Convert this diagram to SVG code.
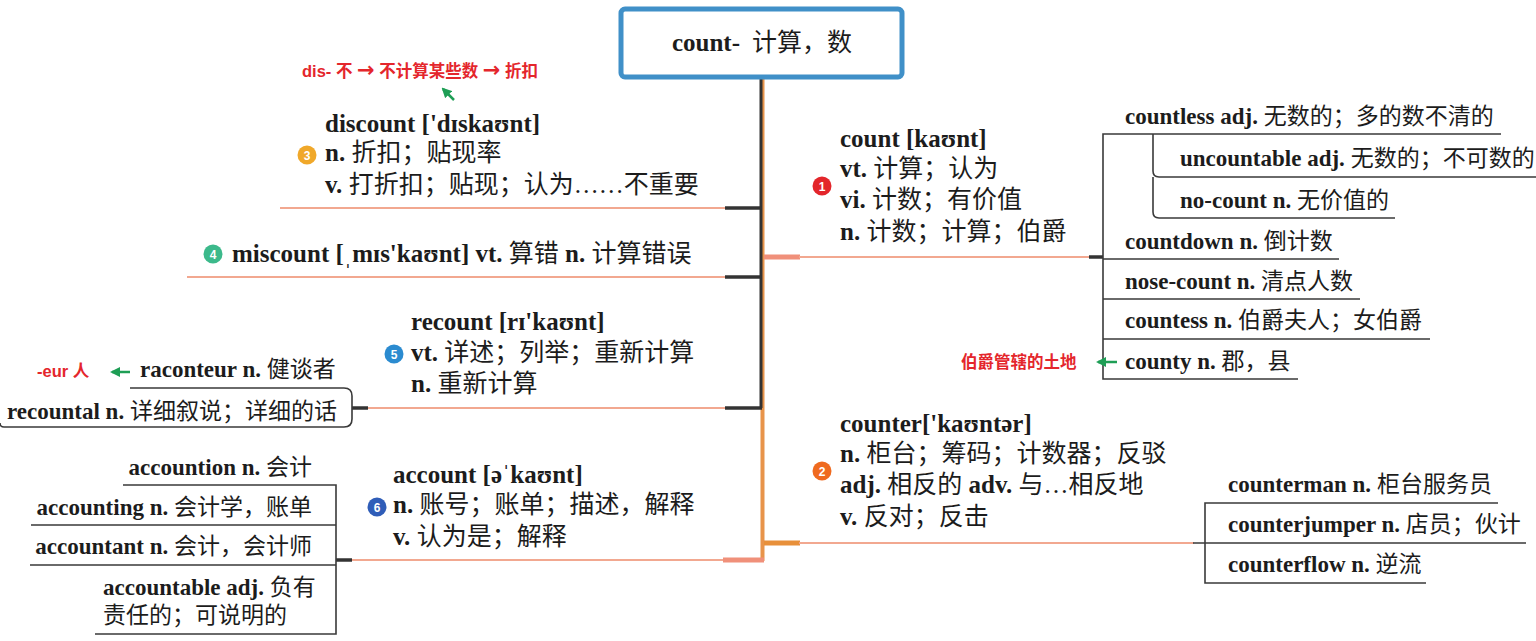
<svg xmlns="http://www.w3.org/2000/svg" width="1536" height="641" viewBox="0 0 1536 641">
<defs>
<style>
.m{font-family:"Liberation Serif","Noto Sans CJK SC",serif;font-size:25px;fill:#1c1c1c}
.s{font-family:"Liberation Serif","Noto Sans CJK SC",serif;font-size:23px;fill:#1c1c1c}
.b{font-weight:bold}
.red{font-family:"Liberation Sans","Noto Sans CJK SC",sans-serif;font-size:16.5px;font-weight:bold;fill:#E4262C}
.arr{font-family:"DejaVu Sans",sans-serif;font-weight:bold;font-size:21px}
.num{font-family:"Liberation Sans",sans-serif;font-size:12px;font-weight:bold;fill:#fff;text-anchor:middle}
.peach{stroke:#F2A890;stroke-width:2;fill:none}
.stub{stroke:#333;stroke-width:3.5;fill:none}
.ul{stroke:#3a3a3a;stroke-width:1.6;fill:none}
.grn{stroke:#1E9E55;stroke-width:2.5;fill:none}
</style>
<marker id="ah" viewBox="0 0 10 10" refX="8" refY="5" markerWidth="4" markerHeight="4" orient="auto-start-reverse">
<path d="M0,0 L10,5 L0,10 z" fill="#1E9E55"/>
</marker>
</defs>
<rect width="1536" height="641" fill="#fff"/>

<g id="connectors">
<line x1="762.5" y1="78" x2="762.5" y2="561" stroke="#E8944A" stroke-width="4"/>
<line x1="761" y1="78" x2="761" y2="408" stroke="#333" stroke-width="3"/>
<line class="peach" x1="280" y1="208" x2="726" y2="208"/>
<line class="stub" x1="725" y1="208" x2="762" y2="208"/>
<line class="peach" x1="187" y1="277" x2="726" y2="277"/>
<line class="stub" x1="725" y1="277" x2="762" y2="277"/>
<line class="peach" x1="366" y1="408" x2="726" y2="408"/>
<line class="stub" x1="725" y1="408" x2="762" y2="408"/>
<line class="stub" x1="352" y1="408" x2="368" y2="408" stroke-width="2"/>
<line class="peach" x1="350" y1="560" x2="726" y2="560"/>
<line x1="723" y1="560" x2="764" y2="560" stroke="#F0907A" stroke-width="5"/>
<line class="stub" x1="336" y1="560" x2="352" y2="560" stroke-width="2"/>
<line x1="764" y1="257" x2="800" y2="257" stroke="#F0907A" stroke-width="5"/>
<line class="peach" x1="799" y1="257" x2="1090" y2="257"/>
<line class="stub" x1="1089" y1="257" x2="1103" y2="257" stroke-width="2"/>
<line x1="764" y1="543" x2="800" y2="543" stroke="#E8903A" stroke-width="5"/>
<line class="peach" x1="799" y1="543" x2="1194" y2="543"/>
<path class="ul" d="M1501,134 H1103 V379 H1298"/>
<path class="ul" d="M1103,259 H1339 M1103,299 H1360 M1103,339 H1430"/>
<path class="ul" d="M1153,134 V171 Q1153,177 1159,177 H1536 M1153,177 V212 Q1153,218 1159,218 H1395"/>
<path class="ul" d="M1498,503 H1205 V583 H1426 M1193,543 H1526"/>
<path class="ul" d="M130,388 H344 Q352,388 352,396 V419 Q352,427 344,427 H4 Q0,427 0,423"/>
<path class="ul" d="M123,485 H336 V634 H95 M31,525 H336 M30,565 H336"/>
<line class="grn" x1="454" y1="100" x2="443" y2="89" marker-end="url(#ah)"/>
<line class="grn" x1="130" y1="372" x2="112" y2="372" marker-end="url(#ah)"/>
<line class="grn" x1="1117" y1="362" x2="1098" y2="362" marker-end="url(#ah)"/>
</g>

<g id="root">
<rect x="621" y="9" width="281" height="68" rx="4" fill="#fff" stroke="#4090C8" stroke-width="5"/>
<text class="m" x="762" y="51" text-anchor="middle"><tspan class="b">count-</tspan><tspan dx="12">计算，数</tspan></text>
</g>

<g id="note-dis">
<text class="red" x="302" y="77">dis- 不 <tspan class="arr">→</tspan> 不计算某些数 <tspan class="arr">→</tspan> 折扣</text>
</g>

<g id="node-discount">
<circle cx="307" cy="155" r="9.5" fill="#F0A82A"/>
<text class="num" x="307" y="159.5">3</text>
<text class="m" x="325" y="132"><tspan class="b">discount ['dɪskaʊnt]</tspan></text>
<text class="m" x="325" y="161"><tspan class="b">n.</tspan> 折扣；贴现率</text>
<text class="m" x="325" y="193"><tspan class="b">v.</tspan> 打折扣；贴现；认为……不重要</text>
</g>

<g id="node-miscount">
<circle cx="213" cy="254" r="9.5" fill="#3CB98B"/>
<text class="num" x="213" y="258.5">4</text>
<text class="m" x="232" y="262"><tspan class="b">miscount [ˌmɪs'kaʊnt] vt.</tspan> 算错 <tspan class="b">n.</tspan> 计算错误</text>
</g>

<g id="node-recount">
<circle cx="394" cy="354" r="9.5" fill="#2B8BD0"/>
<text class="num" x="394" y="358.5">5</text>
<text class="m" x="411" y="330"><tspan class="b">recount [rɪ'kaʊnt]</tspan></text>
<text class="m" x="411" y="361"><tspan class="b">vt.</tspan> 详述；列举；重新计算</text>
<text class="m" x="411" y="392"><tspan class="b">n.</tspan> 重新计算</text>
</g>

<g id="node-raconteur">
<text class="s" x="140" y="377"><tspan class="b">raconteur n.</tspan> 健谈者</text>
</g>
<g id="note-eur">
<text class="red" x="37" y="377">-eur 人</text>
</g>
<g id="node-recountal">
<text class="s" x="7" y="419"><tspan class="b">recountal n.</tspan> 详细叙说；详细的话</text>
</g>

<g id="node-account">
<circle cx="377" cy="507" r="9.5" fill="#2F5DB8"/>
<text class="num" x="377" y="511.5">6</text>
<text class="m" x="393" y="483"><tspan class="b">account [əˈkaʊnt]</tspan></text>
<text class="m" x="393" y="513"><tspan class="b">n.</tspan> 账号；账单；描述，解释</text>
<text class="m" x="393" y="545"><tspan class="b">v.</tspan> 认为是；解释</text>
</g>
<g id="node-accountion"><text class="s" x="312" y="475" text-anchor="end"><tspan class="b">accountion n.</tspan> 会计</text></g>
<g id="node-accounting"><text class="s" x="312" y="515" text-anchor="end"><tspan class="b">accounting n.</tspan> 会计学，账单</text></g>
<g id="node-accountant"><text class="s" x="312" y="554" text-anchor="end"><tspan class="b">accountant n.</tspan> 会计，会计师</text></g>
<g id="node-accountable">
<text class="s" x="103" y="595"><tspan class="b">accountable adj.</tspan> 负有</text>
<text class="s" x="103" y="623">责任的；可说明的</text>
</g>

<g id="node-count">
<circle cx="822" cy="186" r="9.5" fill="#E3262B"/>
<text class="num" x="822" y="190.5">1</text>
<text class="m" x="840" y="147"><tspan class="b">count [kaʊnt]</tspan></text>
<text class="m" x="840" y="177"><tspan class="b">vt.</tspan> 计算；认为</text>
<text class="m" x="840" y="208"><tspan class="b">vi.</tspan> 计数；有价值</text>
<text class="m" x="840" y="240"><tspan class="b">n.</tspan> 计数；计算；伯爵</text>
</g>
<g id="node-countless"><text class="s" x="1125" y="124"><tspan class="b">countless adj.</tspan> 无数的；多的数不清的</text></g>
<g id="node-uncountable"><text class="s" x="1180" y="166"><tspan class="b">uncountable adj.</tspan> 无数的；不可数的</text></g>
<g id="node-nocount"><text class="s" x="1180" y="208"><tspan class="b">no-count n.</tspan> 无价值的</text></g>
<g id="node-countdown"><text class="s" x="1125" y="249"><tspan class="b">countdown n.</tspan> 倒计数</text></g>
<g id="node-nosecount"><text class="s" x="1125" y="289"><tspan class="b">nose-count n.</tspan> 清点人数</text></g>
<g id="node-countess"><text class="s" x="1125" y="328"><tspan class="b">countess n.</tspan> 伯爵夫人；女伯爵</text></g>
<g id="node-county"><text class="s" x="1125" y="369"><tspan class="b">county n.</tspan> 郡，县</text></g>
<g id="note-county"><text class="red" x="961" y="368">伯爵管辖的土地</text></g>

<g id="node-counter">
<circle cx="822" cy="471" r="9.5" fill="#EF6A1F"/>
<text class="num" x="822" y="475.5">2</text>
<text class="m" x="840" y="432"><tspan class="b">counter['kaʊntər]</tspan></text>
<text class="m" x="840" y="462"><tspan class="b">n.</tspan> 柜台；筹码；计数器；反驳</text>
<text class="m" x="840" y="493"><tspan class="b">adj.</tspan> 相反的 <tspan class="b">adv.</tspan> 与…相反地</text>
<text class="m" x="840" y="525"><tspan class="b">v.</tspan> 反对；反击</text>
</g>
<g id="node-counterman"><text class="s" x="1228" y="492"><tspan class="b">counterman n.</tspan> 柜台服务员</text></g>
<g id="node-counterjumper"><text class="s" x="1228" y="532"><tspan class="b">counterjumper n.</tspan> 店员；伙计</text></g>
<g id="node-counterflow"><text class="s" x="1228" y="572"><tspan class="b">counterflow n.</tspan> 逆流</text></g>
</svg>
